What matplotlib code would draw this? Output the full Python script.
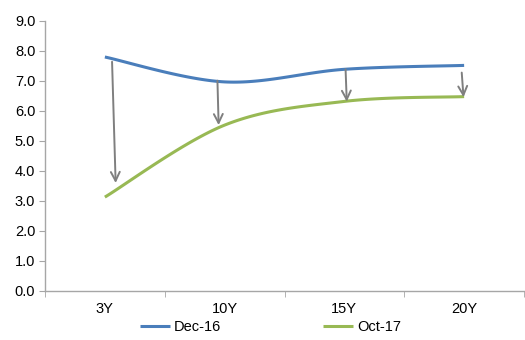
import numpy as np
import matplotlib
matplotlib.use('Agg')
import matplotlib.pyplot as plt

tenors = ['3Y', '10Y', '15Y', '20Y']
dec16 = [7.80, 6.97, 7.39, 7.52]
oct17 = [3.13, 5.53, 6.32, 6.48]

# arrows showing the shift between the two curves (x in category units)
arrow_x0 = [0.06, 0.94, 2.01, 2.98]
arrow_y0 = [7.64, 7.01, 7.39, 7.28]
arrow_x1 = [0.09, 0.95, 2.02, 2.995]
arrow_y1 = [3.60, 5.53, 6.31, 6.46]

yticks = np.arange(0, 9.5, 1.0)


def smooth(xs, ys, n=40):
    # bezier smoothing like a spreadsheet "smoothed line"
    xs = np.asarray(xs, float)
    ys = np.asarray(ys, float)
    px = np.concatenate([[xs[0]], xs, [xs[-1]]])
    py = np.concatenate([[ys[0]], ys, [ys[-1]]])
    outx, outy = [], []
    t = np.linspace(0, 1, n)
    for i in range(1, len(px) - 2):
        p0 = np.array([px[i], py[i]])
        p3 = np.array([px[i + 1], py[i + 1]])
        c1 = p0 + (np.array([px[i + 1], py[i + 1]]) - np.array([px[i - 1], py[i - 1]])) / 6
        c2 = p3 - (np.array([px[i + 2], py[i + 2]]) - np.array([px[i], py[i]])) / 6
        for tt in t:
            b = ((1 - tt) ** 3) * p0 + 3 * ((1 - tt) ** 2) * tt * c1 + 3 * (1 - tt) * tt ** 2 * c2 + tt ** 3 * p3
            outx.append(b[0])
            outy.append(b[1])
    return outx, outy


plt.rcParams['font.family'] = ['Liberation Sans', 'DejaVu Sans']
fig = plt.figure(figsize=(5.25, 3.4), dpi=100)
ax = fig.add_axes([45 / 525, 1 - 291 / 340, 479 / 525, 270 / 340])

x = np.arange(len(tenors))
sx, sy = smooth(x, dec16)
ax.plot(sx, sy, color='#4a7ebb', lw=2.2, label='Dec-16', solid_capstyle='butt')
sx, sy = smooth(x, oct17)
ax.plot(sx, sy, color='#98b954', lw=2.2, label='Oct-17', solid_capstyle='butt')

for x0, y0, x1, y1 in zip(arrow_x0, arrow_y0, arrow_x1, arrow_y1):
    ax.annotate('', xy=(x1, y1), xytext=(x0, y0),
                arrowprops=dict(arrowstyle='->', color='#7f7f7f', lw=1.4,
                                mutation_scale=16, shrinkA=0, shrinkB=0))

ax.set_xlim(-0.5, 3.5)
ax.set_ylim(0, 9)
ax.set_yticks(yticks)
ax.set_yticklabels(['%.1f' % v for v in yticks], fontsize=10.5)
ax.set_xticks(x)
ax.set_xticklabels(tenors, fontsize=10.5)
ax.set_xticks(np.arange(-0.5, 4, 1.0), minor=True)
ax.tick_params(axis='x', which='major', length=0, pad=8)
ax.tick_params(axis='x', which='minor', length=4, color='#a6a6a6')
ax.tick_params(axis='y', length=4, color='#a6a6a6', pad=3)
for s in ['top', 'right']:
    ax.spines[s].set_visible(False)
for s in ['left', 'bottom']:
    ax.spines[s].set_color('#a6a6a6')
    ax.spines[s].set_linewidth(1.0)

fig.legend(loc='center', bbox_to_anchor=(0.515, 0.038), ncol=2, frameon=False,
           fontsize=10.5, handlelength=2.05, handletextpad=0.27, columnspacing=7.0,
           borderpad=0)

plt.savefig('out.png', dpi=100)
